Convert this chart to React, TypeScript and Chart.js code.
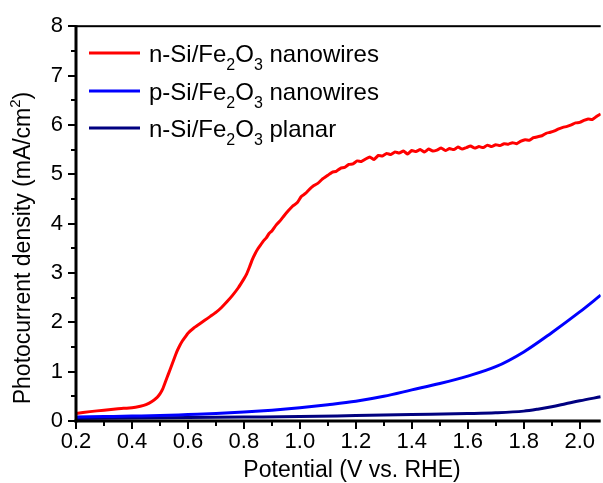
import React, { useEffect, useRef } from 'react';
import { Chart, registerables } from 'chart.js';

Chart.register(...registerables);

const FONT = '"Liberation Sans", Arial, Helvetica, sans-serif';

// Axis ranges and tick values
const xMin = 0.2;
const xMax = 2.075;
const yMin = 0;
const yMax = 8;
const xMajorTicks = [0.2, 0.4, 0.6, 0.8, 1.0, 1.2, 1.4, 1.6, 1.8, 2.0];
const xMinorTicks = [0.3, 0.5, 0.7, 0.9, 1.1, 1.3, 1.5, 1.7, 1.9];
const yMajorTicks = [0, 1, 2, 3, 4, 5, 6, 7, 8];
const yMinorTicks = [0.5, 1.5, 2.5, 3.5, 4.5, 5.5, 6.5, 7.5];

// n-Si/Fe2O3 nanowires
const nwNX = [
  0.2, 0.25, 0.3, 0.35, 0.4, 0.43, 0.45, 0.47, 0.49, 0.5, 0.51, 0.52, 0.53, 0.54,
  0.55, 0.56, 0.57, 0.58, 0.59, 0.6, 0.62, 0.64, 0.66, 0.68, 0.7, 0.72, 0.74, 0.76,
  0.78, 0.8, 0.81, 0.82, 0.83, 0.84, 0.85, 0.86, 0.87, 0.88, 0.89, 0.9, 0.915, 0.93,
  0.945, 0.96, 0.975, 0.99, 1.005, 1.02, 1.035, 1.05, 1.065, 1.08, 1.1, 1.115, 1.13,
  1.145, 1.16, 1.175, 1.19, 1.205, 1.22, 1.235, 1.25, 1.265, 1.28, 1.295, 1.31, 1.325,
  1.34, 1.355, 1.37, 1.385, 1.4, 1.415, 1.43, 1.445, 1.46, 1.475, 1.49, 1.505, 1.52,
  1.535, 1.55, 1.565, 1.58, 1.595, 1.61, 1.625, 1.64, 1.655, 1.67, 1.685, 1.7, 1.715,
  1.73, 1.745, 1.76, 1.775, 1.79, 1.805, 1.82, 1.835, 1.85, 1.865, 1.88, 1.895, 1.91,
  1.925, 1.94, 1.955, 1.97, 1.985, 2.0, 2.015, 2.03, 2.045, 2.06, 2.075,
];
const nwNY = [
  0.15, 0.19, 0.22, 0.25, 0.27, 0.3, 0.33, 0.39, 0.48, 0.55, 0.65, 0.8, 0.95, 1.1,
  1.25, 1.4, 1.52, 1.62, 1.7, 1.78, 1.88, 1.96, 2.04, 2.12, 2.2, 2.3, 2.42, 2.55,
  2.7, 2.88, 2.98, 3.12, 3.27, 3.39, 3.49, 3.57, 3.65, 3.71, 3.8, 3.85, 3.97, 4.06,
  4.17, 4.27, 4.36, 4.42, 4.55, 4.61, 4.7, 4.77, 4.82, 4.9, 4.98, 5.04, 5.06,
  5.12, 5.14, 5.2, 5.21, 5.27, 5.26, 5.31, 5.35, 5.3, 5.38, 5.37, 5.42, 5.4,
  5.45, 5.43, 5.47, 5.41, 5.48, 5.46, 5.5, 5.45, 5.51, 5.47, 5.49, 5.53, 5.48,
  5.52, 5.5, 5.55, 5.51, 5.54, 5.57, 5.53, 5.56, 5.54, 5.59, 5.56, 5.6, 5.58,
  5.62, 5.61, 5.64, 5.62, 5.67, 5.7, 5.69, 5.74, 5.76, 5.78, 5.83, 5.85, 5.88,
  5.92, 5.95, 5.97, 6.0, 6.04, 6.05, 6.09, 6.12, 6.11, 6.17, 6.22,
];

// p-Si/Fe2O3 nanowires
const nwPX = [0.2, 0.3, 0.4, 0.5, 0.6, 0.7, 0.8, 0.9, 1.0, 1.1, 1.2, 1.3, 1.4, 1.5, 1.6, 1.7, 1.8, 1.9, 2.0, 2.075];
const nwPY = [0.08, 0.09, 0.1, 0.11, 0.13, 0.15, 0.18, 0.22, 0.27, 0.33, 0.4, 0.5, 0.63, 0.76, 0.91, 1.1, 1.4, 1.79, 2.21, 2.55];

// n-Si/Fe2O3 planar
const planarX = [0.2, 0.4, 0.6, 0.8, 1.0, 1.2, 1.4, 1.6, 1.7, 1.8, 1.85, 1.9, 1.95, 2.0, 2.075];
const planarY = [0.05, 0.06, 0.07, 0.08, 0.09, 0.11, 0.13, 0.15, 0.165, 0.2, 0.24, 0.29, 0.35, 0.41, 0.49];

const seriesColors = ['#ff0000', '#0000ff', '#000080'];

type Part = [string, 'n' | 'sub' | 'sup'];
const legendLabels: Part[][] = [
  [['n-Si/Fe', 'n'], ['2', 'sub'], ['O', 'n'], ['3', 'sub'], [' nanowires', 'n']],
  [['p-Si/Fe', 'n'], ['2', 'sub'], ['O', 'n'], ['3', 'sub'], [' nanowires', 'n']],
  [['n-Si/Fe', 'n'], ['2', 'sub'], ['O', 'n'], ['3', 'sub'], [' planar', 'n']],
];
const yTitle: Part[] = [['Photocurrent density (mA/cm', 'n'], ['2', 'sup'], [')', 'n']];
const xTitle = 'Potential (V vs. RHE)';

const pts = (xs: number[], ys: number[]) => xs.map((x, i) => ({ x, y: ys[i] }));

const num = (...vals: any[]) => {
  for (const v of vals) if (typeof v === 'number' && isFinite(v)) return v;
  return 0;
};

function richWidth(ctx: CanvasRenderingContext2D, parts: Part[], size: number, small: number) {
  let w = 0;
  for (const [t, k] of parts) {
    ctx.font = `${k === 'n' ? size : small}px ${FONT}`;
    w += ctx.measureText(t).width;
  }
  return w;
}

function drawRich(ctx: CanvasRenderingContext2D, parts: Part[], x: number, y: number, size: number, small: number) {
  let cx = x;
  ctx.textAlign = 'left';
  ctx.textBaseline = 'alphabetic';
  for (const [t, k] of parts) {
    ctx.font = `${k === 'n' ? size : small}px ${FONT}`;
    const dy = k === 'sub' ? size * 0.33 : k === 'sup' ? -size * 0.42 : 0;
    ctx.fillText(t, cx, y + dy);
    cx += ctx.measureText(t).width;
  }
}

const framePlugin = {
  id: 'frame',
  afterDraw(chart: any) {
    const ctx: CanvasRenderingContext2D = chart.ctx;
    const xs = chart.scales.x;
    const ys = chart.scales.y;
    const ca = chart.chartArea || {};
    const aL = num(ca.left, xs.left, 76);
    const aR = num(ca.right, xs.right, 603);
    const aT = num(ca.top, ys.top, 24);
    const aB = num(ca.bottom, ys.bottom, 421);
    ctx.save();
    ctx.globalAlpha = 1;
    ctx.globalCompositeOperation = 'source-over';
    ctx.fillStyle = '#000000';

    // frame: top rule, left and bottom axes
    ctx.fillRect(aL, aT - 1, aR - aL, 2);
    ctx.fillRect(aL - 1.5, aT - 1, 3, aB - aT + 2.5);
    ctx.fillRect(aL - 1.5, aB - 1.5, aR - aL + 1.5, 3);

    // tick marks, outward
    for (const v of xMajorTicks) {
      const px = Math.round(xs.getPixelForValue(v));
      ctx.fillRect(px - 1, aB, 2, 8);
    }
    for (const v of xMinorTicks) {
      const px = Math.round(xs.getPixelForValue(v));
      ctx.fillRect(px - 1, aB, 2, 5);
    }
    for (const v of yMajorTicks) {
      const py = Math.round(ys.getPixelForValue(v));
      ctx.fillRect(aL - 8, py - 1, 8, 2);
    }
    for (const v of yMinorTicks) {
      const py = Math.round(ys.getPixelForValue(v));
      ctx.fillRect(aL - 5, py - 1, 5, 2);
    }

    // legend
    const rowY = [53, 91, 128];
    legendLabels.forEach((parts, i) => {
      ctx.fillStyle = seriesColors[i];
      ctx.fillRect(89, rowY[i] - 1.5, 51, 3);
      ctx.fillStyle = '#000000';
      drawRich(ctx, parts, 149, rowY[i] + 9, 24, 16);
    });

    // axis titles
    ctx.fillStyle = '#000000';
    ctx.font = `23px ${FONT}`;
    ctx.textAlign = 'center';
    ctx.textBaseline = 'alphabetic';
    ctx.fillText(xTitle, 352, 477);

    ctx.translate(30, 248);
    ctx.rotate(-Math.PI / 2);
    const w = richWidth(ctx, yTitle, 23, 15);
    drawRich(ctx, yTitle, -w / 2, 0, 23, 15);
    ctx.restore();
  },
};

export default function App() {
  const canvasRef = useRef<HTMLCanvasElement | null>(null);

  useEffect(() => {
    const canvas = canvasRef.current;
    if (!canvas) return;
    const chart = new Chart(canvas, {
      type: 'line',
      data: {
        datasets: [
          {
            label: 'n-Si/Fe2O3 nanowires',
            data: pts(nwNX, nwNY),
            borderColor: seriesColors[0],
            borderWidth: 3,
            pointRadius: 0,
            tension: 0.15,
          },
          {
            label: 'p-Si/Fe2O3 nanowires',
            data: pts(nwPX, nwPY),
            borderColor: seriesColors[1],
            borderWidth: 3,
            pointRadius: 0,
            cubicInterpolationMode: 'monotone',
          },
          {
            label: 'n-Si/Fe2O3 planar',
            data: pts(planarX, planarY),
            borderColor: seriesColors[2],
            borderWidth: 3,
            pointRadius: 0,
            cubicInterpolationMode: 'monotone',
          },
        ],
      },
      options: {
        responsive: false,
        animation: false,
        events: [],
        layout: { padding: { top: 24, right: 0, left: 0, bottom: 0 } },
        plugins: { legend: { display: false }, tooltip: { enabled: false }, title: { display: false } },
        scales: {
          x: {
            type: 'linear',
            min: xMin,
            max: xMax,
            grid: { display: false, drawTicks: false },
            border: { display: false },
            afterBuildTicks: (s: any) => {
              s.ticks = xMajorTicks.map((value) => ({ value }));
            },
            afterFit: (s: any) => {
              s.height = 62;
            },
            ticks: {
              padding: 8,
              color: '#000',
              font: { family: FONT, size: 22 },
              maxRotation: 0,
              autoSkip: false,
              callback: (v: any) => Number(v).toFixed(1),
            },
          },
          y: {
            type: 'linear',
            min: yMin,
            max: yMax,
            grid: { display: false, drawTicks: false },
            border: { display: false },
            afterBuildTicks: (s: any) => {
              s.ticks = yMajorTicks.map((value) => ({ value }));
            },
            afterFit: (s: any) => {
              s.width = 76;
            },
            ticks: {
              padding: 13,
              color: '#000',
              font: { family: FONT, size: 22 },
              callback: (v: any) => String(v),
            },
          },
        },
      },
      plugins: [framePlugin],
    } as any);
    return () => chart.destroy();
  }, []);

  return (
    <div style={{ position: 'fixed', left: 0, top: 0, width: 603, height: 483, background: '#fff' }}>
      <canvas ref={canvasRef} width={603} height={483} style={{ display: 'block' }} />
    </div>
  );
}
